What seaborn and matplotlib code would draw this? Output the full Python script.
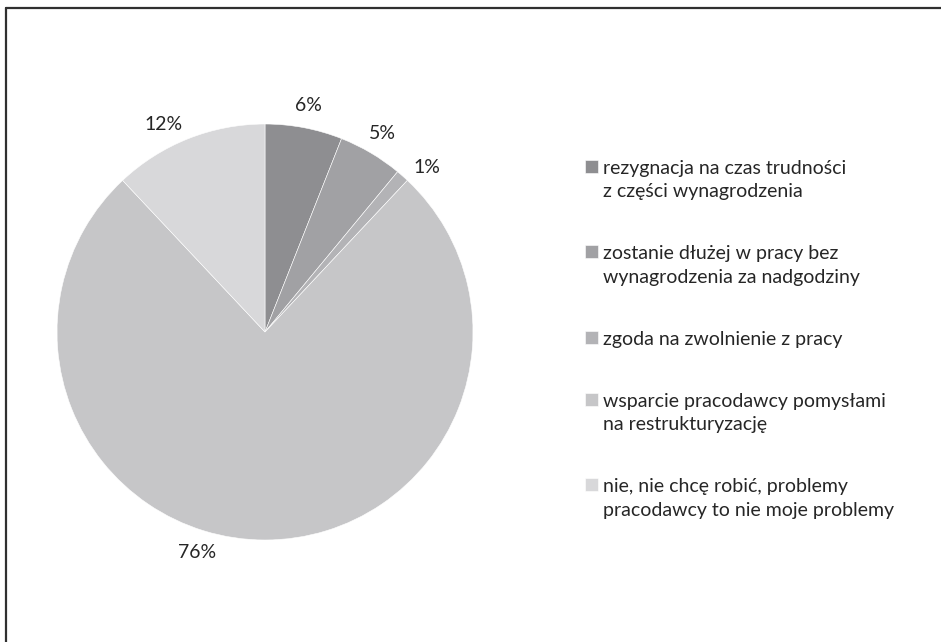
import numpy as np
import matplotlib
matplotlib.use('Agg')
import matplotlib.pyplot as plt
import seaborn as sns
from matplotlib.lines import Line2D
from matplotlib.font_manager import FontProperties

# --- data ---
categories = [
    'rezygnacja na czas trudności\nz części wynagrodzenia',
    'zostanie dłużej w pracy bez\nwynagrodzenia za nadgodziny',
    'zgoda na zwolnienie z pracy',
    'wsparcie pracodawcy pomysłami\nna restrukturyzację',
    'nie, nie chcę robić, problemy\npracodawcy to nie moje problemy',
]
shares = [6, 5, 1, 76, 12]
grays = ['#8e8e91', '#a1a1a4', '#b3b3b6', '#c6c6c8', '#d8d8da']

# label nudges (degrees) like Excel's best-fit label placement
label_nudge = [0, 0, -3, -17, 4.6]

sns.set_style('white')
plt.rcParams['font.family'] = ['Lato', 'DejaVu Sans']
plt.rcParams['text.color'] = '#262626'

W, H = 941, 642
FS = 14
fig = plt.figure(figsize=(W / 100, H / 100), dpi=100)

# pie axes: centre (265, 332) px from top-left, radius 208 px
cx, cy, r = 265, 332, 208
ax = fig.add_axes([(cx - r) / W, (H - cy - r) / H, 2 * r / W, 2 * r / H])
wedges, texts, pcts = ax.pie(
    shares, colors=grays, startangle=90, counterclock=False,
    autopct='%.0f%%', pctdistance=1.11,
    wedgeprops=dict(edgecolor='white', linewidth=0.4),
    textprops=dict(fontsize=FS, color='#262626'),
)
for w, t, d in zip(wedges, pcts, label_nudge):
    ang = np.deg2rad((w.theta1 + w.theta2) / 2 + d)
    t.set_position((1.11 * np.cos(ang), 1.11 * np.sin(ang)))
ax.set_xlim(-1, 1)
ax.set_ylim(-1, 1)
ax.set_aspect('equal')
ax.axis('off')

# measure a text line so the legend lines sit 25 px apart
renderer = fig.canvas.get_renderer()
_, lp_h, _ = renderer.get_text_width_height_descent('lp', FontProperties(family=['Lato'], size=FS), ismath=False)
fs_px = FS * 100 / 72
line_pitch = 25
entry_gap = 62  # centre of last line -> centre of next entry's first line
first_line = 168

leg = fig.legend(
    wedges, categories, loc='upper left',
    bbox_to_anchor=(585 / W, 1 - (first_line - lp_h / 2) / H),
    frameon=False, fontsize=FS, borderpad=0, borderaxespad=0,
    handlelength=0.67, handleheight=0.67, handletextpad=0.26,
    labelspacing=(entry_gap - lp_h) / fs_px,
)
for t in leg.get_texts():
    t.set_linespacing(line_pitch / lp_h)
for col in leg._legend_handle_box.get_children():
    for row in col.get_children():
        row.align = 'top'

# frame lines (top and left)
fig.add_artist(Line2D([6 / W, 1], [1 - 8 / H, 1 - 8 / H], color='#303030', lw=1.6,
                      transform=fig.transFigure))
fig.add_artist(Line2D([6 / W, 6 / W], [0, 1 - 8 / H], color='#303030', lw=1.6,
                      transform=fig.transFigure))

fig.savefig('out.png', dpi=100)
